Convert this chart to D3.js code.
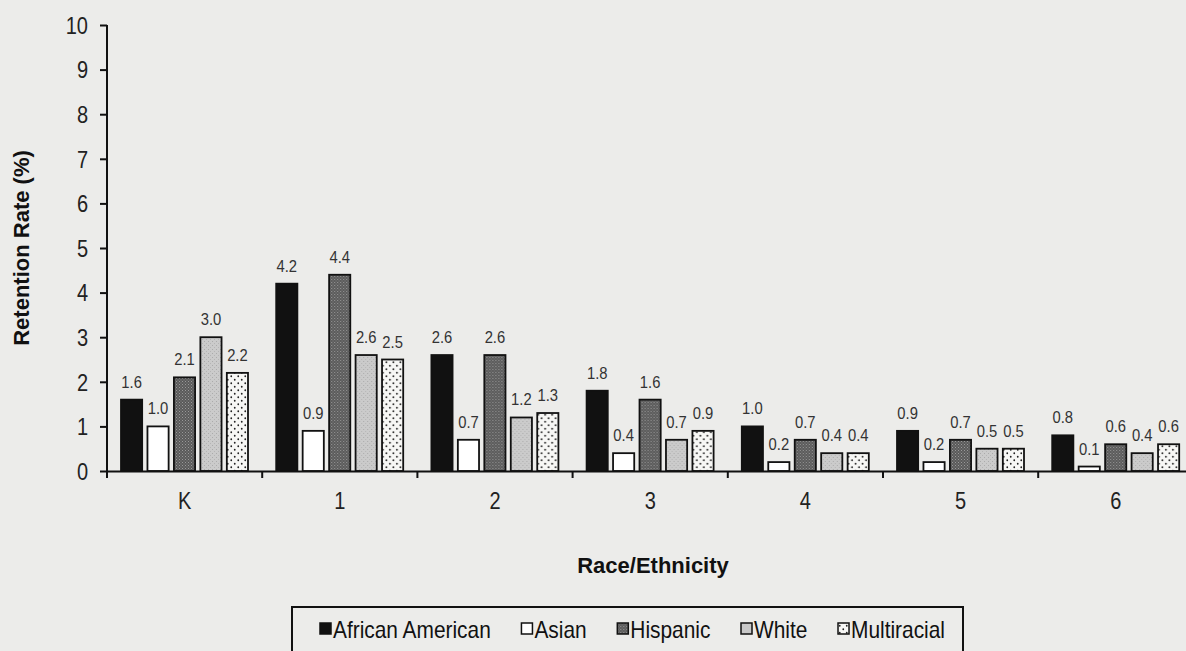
<!DOCTYPE html>
<html>
<head>
<meta charset="utf-8">
<script src="https://cdn.jsdelivr.net/npm/d3@7"></script>
<style>
  html, body { margin: 0; padding: 0; background: #ececea; }
  svg { display: block; }
  text { font-family: "Liberation Sans", Arial, sans-serif; }
</style>
</head>
<body>
<script>
// data
var grades = ["K", "1", "2", "3", "4", "5", "6"];
var groups = ["African American", "Asian", "Hispanic", "White", "Multiracial"];
var africanAmerican = [1.6, 4.2, 2.6, 1.8, 1.0, 0.9, 0.8];
var asian           = [1.0, 0.9, 0.7, 0.4, 0.2, 0.2, 0.1];
var hispanic        = [2.1, 4.4, 2.6, 1.6, 0.7, 0.7, 0.6];
var white           = [3.0, 2.6, 1.2, 0.7, 0.4, 0.5, 0.4];
var multiracial     = [2.2, 2.5, 1.3, 0.9, 0.4, 0.5, 0.6];
var yTicks = [0, 1, 2, 3, 4, 5, 6, 7, 8, 9, 10];

var series = [africanAmerican, asian, hispanic, white, multiracial];

var width = 1186, height = 651;
var plotLeft = 107, plotTop = 25, plotBottom = 471, catW = 155.2;
var narrow = 0.87; // the scan uses a condensed face

var svg = d3.select("body").append("svg")
    .attr("width", width)
    .attr("height", height);

// squeeze text horizontally to fake Arial Narrow
function squeeze(sel, sx) {
    sel.each(function() {
        var t = d3.select(this);
        var tx = +t.attr("x") || 0, ty = +t.attr("y") || 0;
        t.attr("x", 0).attr("y", 0)
         .attr("transform", "translate(" + tx + "," + ty + ") scale(" + sx + ",1)");
    });
}

// fills
var defs = svg.append("defs");

var hisp = defs.append("pattern").attr("id", "hisp")
    .attr("patternUnits", "userSpaceOnUse").attr("width", 3).attr("height", 3);
hisp.append("rect").attr("width", 3).attr("height", 3).attr("fill", "#5a5a5a");
hisp.append("rect").attr("x", 0).attr("y", 0).attr("width", 1).attr("height", 1).attr("fill", "#999");
hisp.append("rect").attr("x", 1.5).attr("y", 1.5).attr("width", 1).attr("height", 1).attr("fill", "#8a8a8a");

var wht = defs.append("pattern").attr("id", "wht")
    .attr("patternUnits", "userSpaceOnUse").attr("width", 4).attr("height", 4);
wht.append("rect").attr("width", 4).attr("height", 4).attr("fill", "#cbcbcb");
wht.append("rect").attr("x", 1).attr("y", 1).attr("width", 1).attr("height", 1).attr("fill", "#ababab");
wht.append("rect").attr("x", 3).attr("y", 3).attr("width", 1).attr("height", 1).attr("fill", "#b5b5b5");

var multi = defs.append("pattern").attr("id", "multi")
    .attr("patternUnits", "userSpaceOnUse").attr("width", 7).attr("height", 7);
multi.append("rect").attr("width", 7).attr("height", 7).attr("fill", "#f7f7f5");
multi.append("circle").attr("cx", 1.75).attr("cy", 1.75).attr("r", 0.9).attr("fill", "#222");
multi.append("circle").attr("cx", 5.25).attr("cy", 5.25).attr("r", 0.9).attr("fill", "#222");

var fills = ["#111111", "#ffffff", "url(#hisp)", "url(#wht)", "url(#multi)"];
var legendFills = ["#111111", "#ffffff", "url(#hisp)", "#c8c8c8", "url(#multi)"];

// scales
var x = d3.scaleBand()
    .domain(grades)
    .range([plotLeft, plotLeft + catW * grades.length])
    .padding(0);

var x1 = d3.scaleBand()
    .domain(d3.range(groups.length))
    .range([14, 141])
    .paddingInner(0.2)
    .paddingOuter(0);

var y = d3.scaleLinear()
    .domain([0, 10])
    .range([plotBottom, plotTop]);

// y axis
var yAxis = svg.append("g")
    .attr("transform", "translate(" + plotLeft + ",0)")
    .call(d3.axisLeft(y).tickValues(yTicks).tickSize(7).tickPadding(12).tickFormat(d3.format("d")));
yAxis.select(".domain").attr("stroke", "#111").attr("stroke-width", 2)
    .attr("d", "M0," + plotTop + "V" + (plotBottom + 7));
yAxis.selectAll(".tick line").attr("stroke", "#111").attr("stroke-width", 2);
yAxis.selectAll(".tick text")
    .attr("fill", "#222")
    .style("font-size", "23px")
    .attr("dy", "0.36em")
    .call(squeeze, narrow);

// bars
var gGroups = svg.append("g").selectAll("g")
    .data(grades)
    .enter().append("g")
    .attr("transform", function(d) { return "translate(" + x(d) + ",0)"; });

var bars = gGroups.selectAll("g.bar")
    .data(function(d, i) { return series.map(function(s, j) { return { k: j, v: s[i] }; }); })
    .enter().append("g").attr("class", "bar");

bars.append("rect")
    .attr("x", function(d) { return x1(d.k); })
    .attr("y", function(d) { return y(d.v); })
    .attr("width", x1.bandwidth())
    .attr("height", function(d) { return plotBottom - y(d.v); })
    .attr("fill", function(d) { return fills[d.k]; })
    .attr("stroke", "#111")
    .attr("stroke-width", 1.8);

bars.append("text")
    .attr("x", function(d) { return x1(d.k) + x1.bandwidth() / 2; })
    .attr("y", function(d) { return y(d.v) - 12; })
    .attr("text-anchor", "middle")
    .attr("fill", "#333")
    .style("font-size", "17px")
    .text(function(d) { return d.v.toFixed(1); })
    .call(squeeze, narrow);

// x axis
var xAxis = svg.append("g")
    .attr("transform", "translate(0," + plotBottom + ")")
    .call(d3.axisBottom(x).tickSize(0).tickPadding(22));
xAxis.select(".domain").attr("stroke", "#111").attr("stroke-width", 2);
xAxis.selectAll(".tick text")
    .attr("fill", "#222")
    .style("font-size", "23px")
    .call(squeeze, narrow);

svg.append("g").selectAll("line")
    .data(grades)
    .enter().append("line")
    .attr("x1", function(d) { return x(d); })
    .attr("x2", function(d) { return x(d); })
    .attr("y1", plotBottom)
    .attr("y2", plotBottom + 7)
    .attr("stroke", "#111")
    .attr("stroke-width", 2);

// axis titles
svg.append("text")
    .attr("transform", "translate(29,248) rotate(-90)")
    .attr("text-anchor", "middle")
    .attr("fill", "#111")
    .style("font-size", "22px")
    .style("font-weight", "bold")
    .text("Retention Rate (%)");

svg.append("text")
    .attr("x", 653)
    .attr("y", 573)
    .attr("text-anchor", "middle")
    .attr("fill", "#111")
    .style("font-size", "22px")
    .style("font-weight", "bold")
    .text("Race/Ethnicity");

// legend
svg.append("rect")
    .attr("x", 292).attr("y", 607)
    .attr("width", 671).attr("height", 60)
    .attr("fill", "none")
    .attr("stroke", "#111")
    .attr("stroke-width", 2);

var leg = svg.append("g");
var items = leg.selectAll("g")
    .data(groups)
    .enter().append("g");
items.append("rect")
    .attr("x", 0).attr("y", -15)
    .attr("width", 11).attr("height", 11)
    .attr("fill", function(d, i) { return legendFills[i]; })
    .attr("stroke", "#111")
    .attr("stroke-width", 1.5);
items.append("text")
    .attr("x", 13)
    .attr("y", 0)
    .attr("fill", "#111")
    .style("font-size", "24px")
    .text(function(d) { return d; });

var widths = [];
items.each(function() {
    widths.push(13 + d3.select(this).select("text").node().getComputedTextLength() * narrow);
});
items.selectAll("text").call(squeeze, narrow);

var legStart = 320, legEnd = 945;
var gap = (legEnd - legStart - d3.sum(widths)) / (groups.length - 1);
var cx = legStart;
items.attr("transform", function(d, i) {
    var t = "translate(" + cx + ",638)";
    cx += widths[i] + gap;
    return t;
});
</script>
</body>
</html>
